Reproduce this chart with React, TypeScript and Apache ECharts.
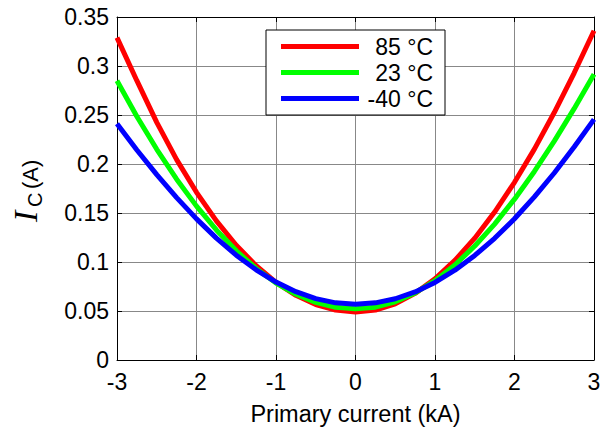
import React, { useEffect, useRef } from "react";
import * as echarts from "echarts";

const xValues = [-3, -2.75, -2.5, -2.25, -2, -1.75, -1.5, -1.25, -1, -0.75, -0.5, -0.25, 0, 0.25, 0.5, 0.75, 1, 1.25, 1.5, 1.75, 2, 2.25, 2.5, 2.75, 3];
const red85 = [0.3290, 0.2850, 0.2425, 0.2045, 0.1711, 0.1419, 0.1171, 0.0962, 0.0792, 0.0660, 0.0566, 0.0509, 0.0490, 0.0510, 0.0574, 0.0680, 0.0828, 0.1016, 0.1243, 0.1510, 0.1813, 0.2152, 0.2525, 0.2928, 0.3360];
const green23 = [0.2850, 0.2485, 0.2150, 0.1845, 0.1570, 0.1327, 0.1114, 0.0934, 0.0786, 0.0671, 0.0588, 0.0538, 0.0522, 0.0539, 0.0594, 0.0684, 0.0810, 0.0970, 0.1163, 0.1387, 0.1641, 0.1924, 0.2233, 0.2565, 0.2915];
const blueM40 = [0.2410, 0.2143, 0.1892, 0.1657, 0.1440, 0.1244, 0.1070, 0.0920, 0.0795, 0.0697, 0.0626, 0.0583, 0.0569, 0.0583, 0.0625, 0.0695, 0.0792, 0.0916, 0.1067, 0.1242, 0.1441, 0.1664, 0.1908, 0.2173, 0.2455];
const seriesNames = ["85 °C", "23 °C", "-40 °C"];
const seriesColors = ["#ff0000", "#00ff00", "#0000ff"];
const xAxisName = "Primary current (kA)";

const FONT = "'Liberation Sans', Arial, sans-serif";

export default function App() {
  const ref = useRef<HTMLDivElement>(null);
  useEffect(() => {
    if (!ref.current) return;
    const chart = echarts.init(ref.current, null, { renderer: "svg" });
    const allData = [red85, green23, blueM40];
    const axisCommon = {
      axisLine: { show: true, onZero: false, lineStyle: { color: "#000", width: 1 } },
      axisTick: { show: true, inside: true, length: 5, lineStyle: { color: "#000", width: 1 } },
    };
    chart.setOption({
      animation: false,
      backgroundColor: "#fff",
      grid: { left: 117, right: 15, top: 17, bottom: 69, containLabel: false },
      legend: {
        orient: "vertical",
        left: 266,
        top: 30,
        padding: [5, 12, 5, 15],
        itemGap: 3,
        itemWidth: 78,
        itemHeight: 5,
        backgroundColor: "#fff",
        borderColor: "#000",
        borderWidth: 1,
        borderRadius: 0,
        data: seriesNames.map((n) => ({ name: n, icon: "rect" })),
        formatter: (name: string) => `{r|${name}}`,
        textStyle: {
          rich: {
            r: { width: 69, align: "right", fontSize: 23, fontFamily: FONT, lineHeight: 26, color: "#000" },
          },
        },
      },
      xAxis: [
        {
          type: "value",
          min: -3,
          max: 3,
          interval: 1,
          position: "bottom",
          ...axisCommon,
          axisLabel: { fontSize: 23, fontFamily: FONT, color: "#000", margin: 10 },
          splitLine: { show: true, lineStyle: { color: "#888", width: 1 } },
          name: xAxisName,
          nameLocation: "middle",
          nameGap: 42,
          nameTextStyle: { fontSize: 23.5, fontFamily: FONT, color: "#000" },
        },
        {
          type: "value",
          min: -3,
          max: 3,
          interval: 1,
          position: "top",
          ...axisCommon,
          axisLabel: { show: false },
          splitLine: { show: false },
        },
      ],
      yAxis: [
        {
          type: "value",
          min: 0,
          max: 0.35,
          interval: 0.05,
          position: "left",
          ...axisCommon,
          axisLabel: { fontSize: 23, fontFamily: FONT, color: "#000", margin: 8 },
          splitLine: { show: true, lineStyle: { color: "#888", width: 1 } },
        },
        {
          type: "value",
          min: 0,
          max: 0.35,
          interval: 0.05,
          position: "right",
          ...axisCommon,
          axisLabel: { show: false },
          splitLine: { show: false },
        },
      ],
      graphic: [
        {
          type: "group",
          x: 25,
          y: 222,
          rotation: Math.PI / 2,
          children: [
            {
              type: "text",
              x: 0,
              y: 0,
              style: { text: "I", fontSize: 34, fontFamily: "'Liberation Serif', 'Times New Roman', serif", fontStyle: "italic", fill: "#000", align: "left", verticalAlign: "middle" },
            },
            {
              type: "text",
              x: 15,
              y: 10,
              style: { text: "C", fontSize: 20, fontFamily: FONT, fill: "#000", align: "left", verticalAlign: "middle" },
            },
            {
              type: "text",
              x: 33,
              y: 5,
              style: { text: "(A)", fontSize: 22, fontFamily: FONT, fill: "#000", align: "left", verticalAlign: "middle" },
            },
          ],
        },
      ],
      series: seriesNames.map((name, i) => ({
        name,
        type: "line",
        xAxisIndex: 0,
        yAxisIndex: 0,
        data: xValues.map((x, j) => [x, allData[i][j]]),
        showSymbol: false,
        symbol: "none",
        smooth: false,
        clip: true,
        lineStyle: { color: seriesColors[i], width: 5 },
        itemStyle: { color: seriesColors[i] },
      })),
    });
    return () => chart.dispose();
  }, []);
  return <div ref={ref} style={{ position: "fixed", left: 0, top: 0, width: 609, height: 431 }} />;
}
